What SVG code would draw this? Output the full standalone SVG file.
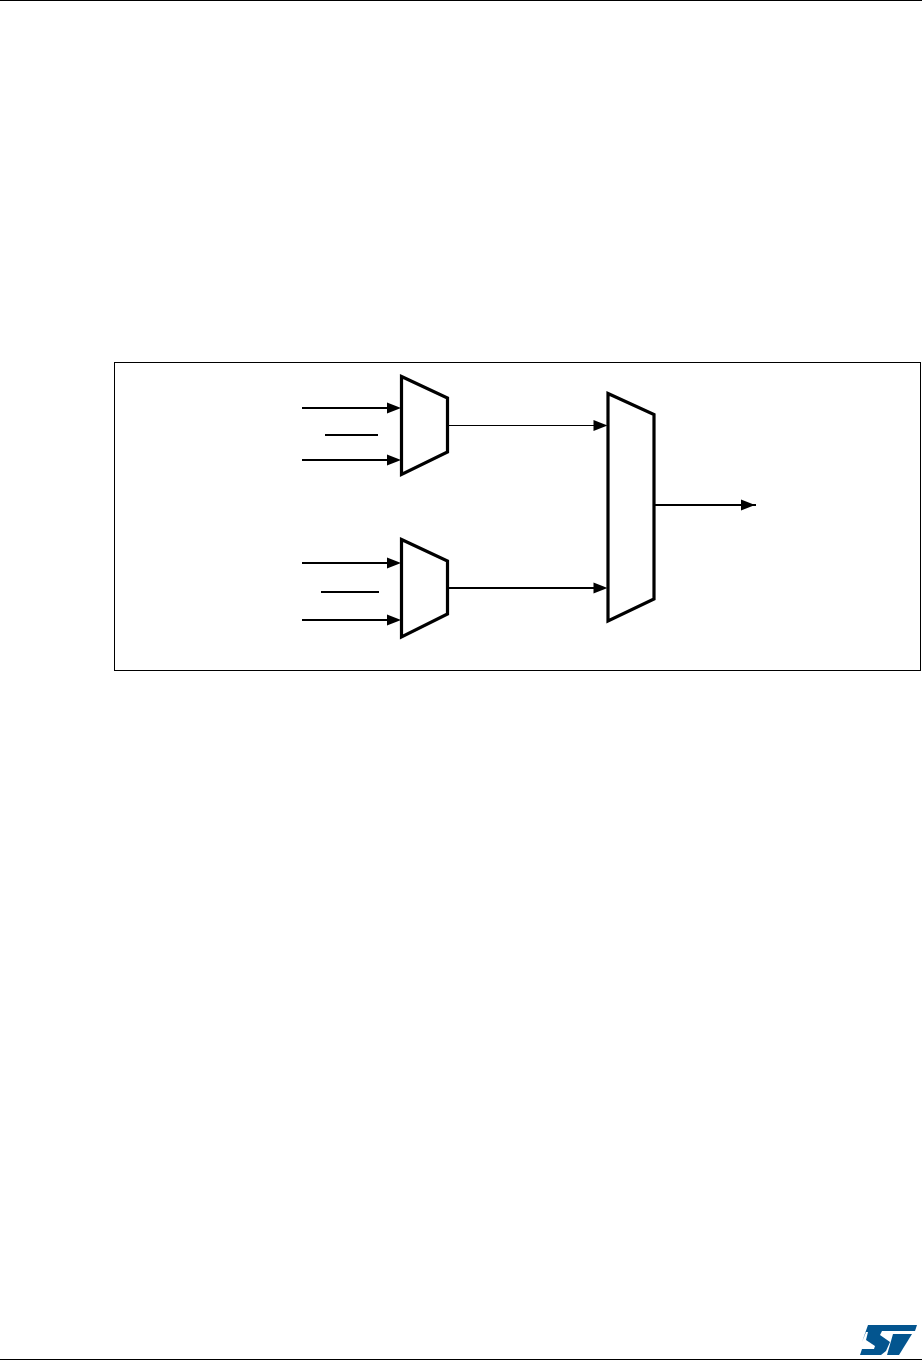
<svg xmlns="http://www.w3.org/2000/svg" width="922" height="1361" viewBox="0 0 922 1361">
<style>
.mux{fill:#fff;stroke:#000;stroke-width:3.2;stroke-linejoin:miter;stroke-miterlimit:10}
.w{stroke:#000;stroke-width:1.8;fill:none}
.t{stroke-width:1}
.h{fill:#000;stroke:none}
</style>
<defs>
<path id="ah" class="h" d="M-14,-5.5L0,0L-14,5.5Z"/>
</defs>
<rect width="922" height="1361" fill="#fff"/>
<g id="page-rules">
<line x1="0" y1="0.5" x2="922" y2="0.5" stroke="#000" stroke-width="1.2"/>
<line x1="0" y1="1359.5" x2="922" y2="1359.5" stroke="#000" stroke-width="1.2"/>
</g>
<g id="frame"><rect x="114.5" y="362.5" width="806" height="308" fill="none" stroke="#000" stroke-width="1"/></g>
<g id="mux-top"><polygon class="mux" points="401.5,376.5 447.5,398 447.5,452 401.5,474.5"/></g>
<g id="mux-bottom"><polygon class="mux" points="401.5,539.5 447.5,561 447.5,614 401.5,637"/></g>
<g id="mux-output"><polygon class="mux" points="608,393.5 654,414.5 654,599 608,621"/></g>
<g id="connectors">
<line class="w" x1="302" y1="408" x2="390" y2="408"/><use href="#ah" x="401" y="408"/>
<line class="w" x1="325" y1="435" x2="378" y2="435"/>
<line class="w" x1="302" y1="460" x2="390" y2="460"/><use href="#ah" x="401" y="460"/>
<line class="w" x1="302" y1="563" x2="390" y2="563"/><use href="#ah" x="401" y="563"/>
<line class="w" x1="321" y1="592" x2="379" y2="592"/>
<line class="w" x1="302" y1="620" x2="390" y2="620"/><use href="#ah" x="401" y="620"/>
<line class="w t" x1="449" y1="425.5" x2="597" y2="425.5"/><use href="#ah" x="607.5" y="425.5"/>
<line class="w" x1="449" y1="588" x2="597" y2="588"/><use href="#ah" x="607.5" y="588"/>
<line class="w" x1="655" y1="505" x2="756" y2="505"/><use href="#ah" x="755" y="505"/>
</g>
<g id="logo" fill="#03558f">
<polygon points="868,1325 917,1325 915,1331 882,1331 880,1335 890,1342 886,1351 881,1355 860,1355 862,1349 874,1349 875,1346 866,1340 868,1332 866,1332 862,1342"/>
<polygon points="893,1334 912,1334 899,1355 887,1355"/>
</g>
</svg>
